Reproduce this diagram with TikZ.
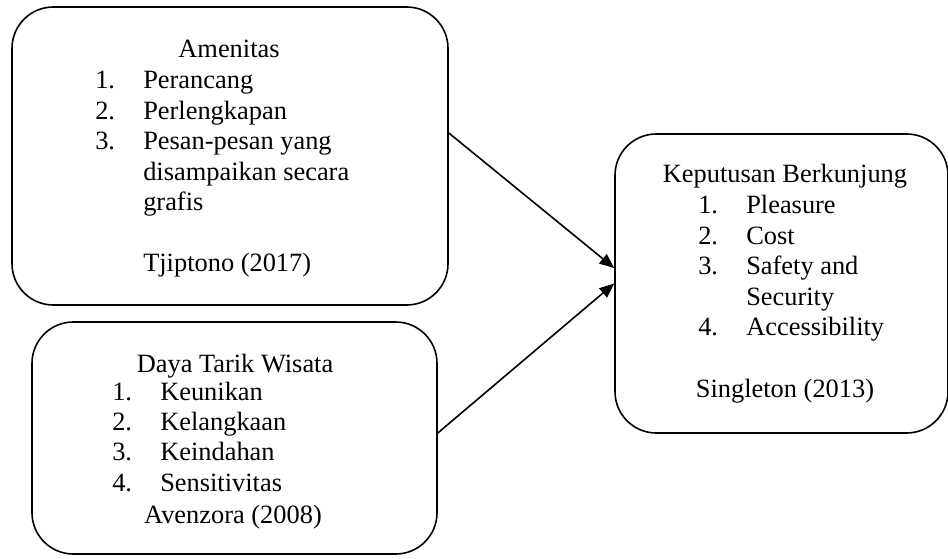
\documentclass[tikz,border=0pt]{standalone}
\usepackage{fontspec}
\setmainfont{Liberation Serif}
\usepackage{tikz}
\usetikzlibrary{positioning, arrows.meta}

\tikzset{
  factor/.style={draw, line width=1.2pt, rounded corners=31pt, inner sep=0pt},
  head/.style={anchor=base, inner sep=0pt},
  items/.style={anchor=base west, inner sep=0pt},
  link/.style={line width=1.2pt, -{Triangle[length=11pt,width=9pt]}}
}

\begin{document}
\begin{tikzpicture}[x=0.75pt, y=-0.75pt, font=\fontsize{19.8}{22.8}\selectfont]
        \useasboundingbox (0,0) rectangle (948,559);

        % boxes
        \node[factor, minimum width=327pt, minimum height=223.5pt](amen) at (230,156){};
        \node[factor, minimum width=303.75pt, minimum height=174pt](daya) at (234.5,438){};
        \node[factor, minimum width=249.75pt, minimum height=224.25pt](kep) at (781.5,283.5){};

        % Amenitas
        \node[head](amenhead) at (229,58){Amenitas};
        \node[items](amenlist) at (95,89){\begin{tabular}[t]{@{}p{36pt}@{}l@{}}
          1. & Perancang\\
          2. & Perlengkapan\\
          3. & Pesan-pesan yang\\
             & disampaikan secara\\
             & grafis\\
             & \\
             & Tjiptono (2017)
        \end{tabular}};

        % Daya Tarik Wisata
        \node[head](dayahead) at (235,372){Daya Tarik Wisata};
        \node[items](dayalist) at (112,400){\begin{tabular}[t]{@{}p{36pt}@{}l@{}}
          1. & Keunikan\\
          2. & Kelangkaan\\
          3. & Keindahan\\
          4. & Sensitivitas
        \end{tabular}};
        \node[head](dayasrc) at (233,523){Avenzora (2008)};

        % Keputusan Berkunjung
        \node[head](kephead) at (785,183){Keputusan Berkunjung};
        \node[items](keplist) at (698,214){\begin{tabular}[t]{@{}p{36pt}@{}l@{}}
          1. & Pleasure\\
          2. & Cost\\
          3. & Safety and\\
             & Security\\
          4. & Accessibility
        \end{tabular}};
        \node[head](kepsrc) at (785,397){Singleton (2013)};

        \draw[link] ([yshift=17.25pt]amen.east) -- ([yshift=11.6pt]kep.west);
        \draw[link] ([yshift=3.75pt]daya.east) -- (kep.west);
\end{tikzpicture}
\end{document}
